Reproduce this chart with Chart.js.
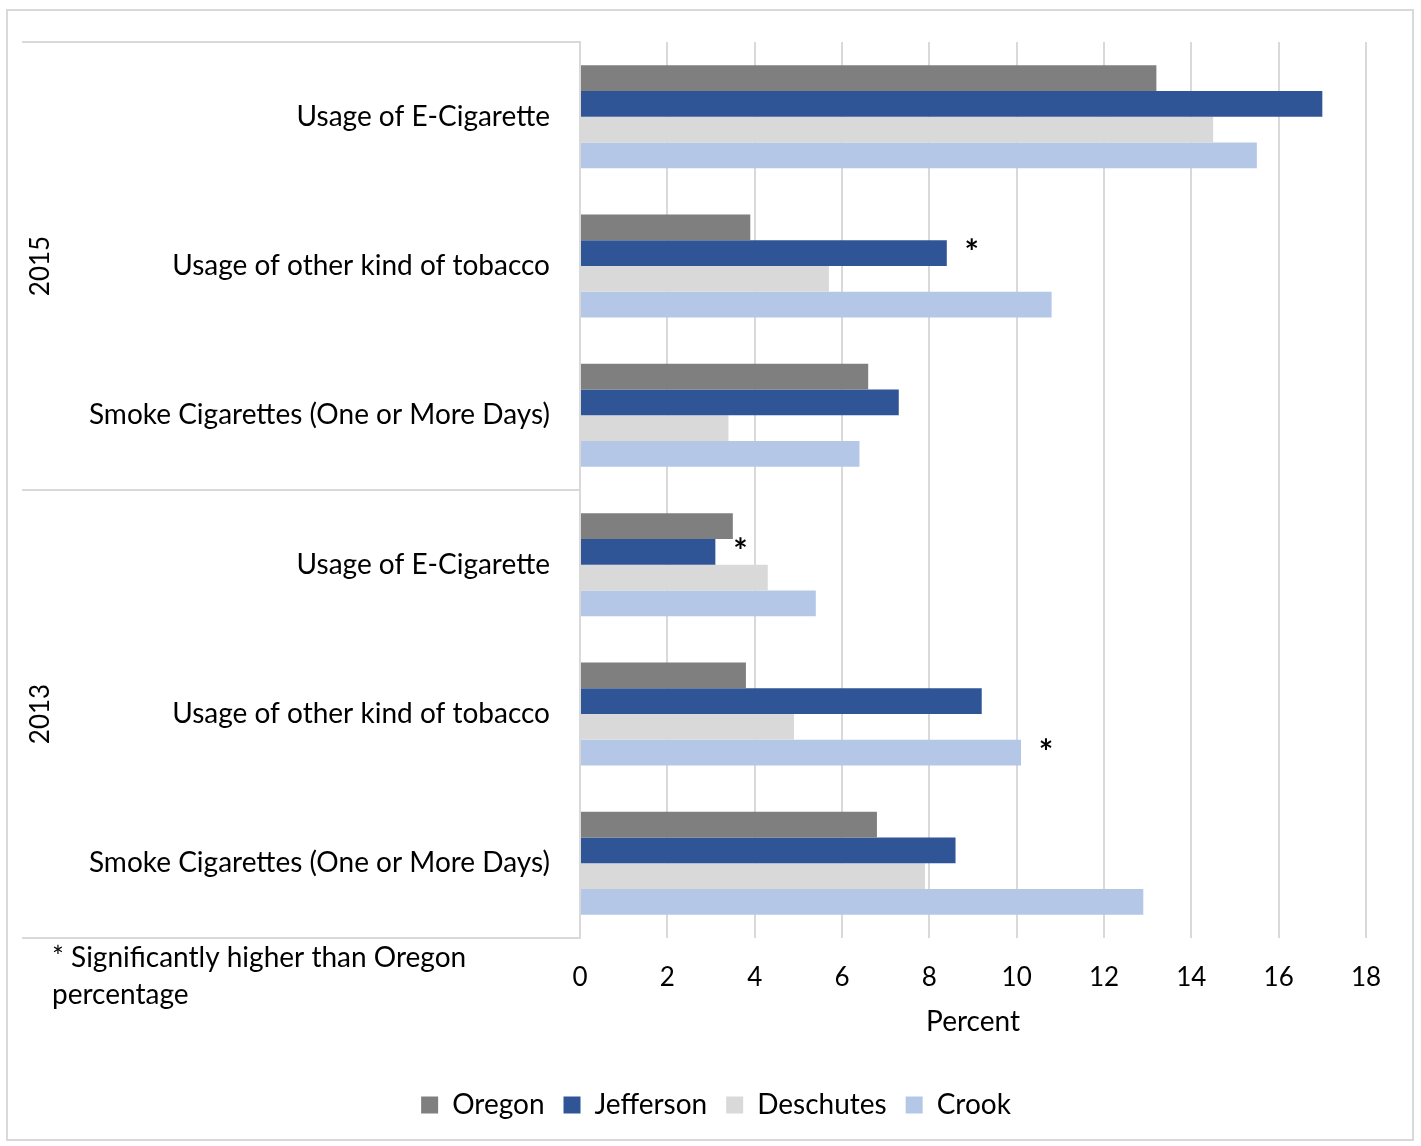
<!DOCTYPE html>
<html>
<head>
<meta charset="utf-8">
<script src="https://cdn.jsdelivr.net/npm/chart.js@4.4.1/dist/chart.umd.min.js"></script>
<style>
  body { margin: 0; background: #fff; }
  #wrap { width: 1421px; height: 1146px; }
</style>
</head>
<body>
<div id="wrap"><canvas id="my-chart" width="1421" height="1146"></canvas></div>
<script>
'use strict';

// categories, top to bottom
let measures = [
  'Usage of E-Cigarette',
  'Usage of other kind of tobacco',
  'Smoke Cigarettes (One or More Days)',
  'Usage of E-Cigarette',
  'Usage of other kind of tobacco',
  'Smoke Cigarettes (One or More Days)'
];
let years = ['2015', '2013'];   // each year covers 3 measures

// series values (percent)
let oregon    = [13.2, 3.9, 6.6, 3.5, 3.8, 6.8];
let jefferson = [17.0, 8.4, 7.3, 3.1, 9.2, 8.6];
let deschutes = [14.5, 5.7, 3.4, 4.3, 4.9, 7.9];
let crook     = [15.5, 10.8, 6.4, 5.4, 10.1, 12.9];

let xTicks = [0, 2, 4, 6, 8, 10, 12, 14, 16, 18];

// significance stars: [series index, category index]
let stars = [[1, 1], [1, 3], [3, 4]];

let footnote = ['* Significantly higher than Oregon', 'percentage'];

const FONT = 'Lato, "Noto Sans", sans-serif';
const FRAME = '#d9d9d9';

let ctx = document.getElementById('my-chart');

// frame, year labels, stars and footnote
let extrasPlugin = {
  id: 'extras',
  beforeDraw(chart) {
    let c = chart.ctx;
    c.save();
    c.fillStyle = '#fff';
    c.fillRect(0, 0, chart.width, chart.height);
    c.strokeStyle = FRAME;
    c.lineWidth = 2;
    c.strokeRect(7, 10, 1406, 1130);
    c.restore();
  },
  afterDraw(chart) {
    let c = chart.ctx;
    let y = chart.scales.y;
    let area = chart.chartArea;
    let per = measures.length / years.length;

    c.save();
    c.strokeStyle = FRAME;
    c.lineWidth = 2;
    let lines = [area.top, area.bottom];
    for (let g = 1; g < years.length; g++) {
      lines.push((y.getPixelForTick(g * per - 1) + y.getPixelForTick(g * per)) / 2);
    }
    lines.forEach(function (ly) {
      c.beginPath();
      c.moveTo(22, ly);
      c.lineTo(area.left, ly);
      c.stroke();
    });

    // year labels, rotated
    c.fillStyle = '#000';
    c.font = '26px ' + FONT;
    c.textAlign = 'center';
    c.textBaseline = 'middle';
    for (let g = 0; g < years.length; g++) {
      let top = g === 0 ? area.top : lines[1 + g];
      let bottom = g === years.length - 1 ? area.bottom : lines[2 + g];
      c.save();
      c.translate(41, (top + bottom) / 2);
      c.rotate(-Math.PI / 2);
      c.fillText(years[g], 0, 0);
      c.restore();
    }

    // stars
    c.font = 'bold 34px ' + FONT;
    c.textBaseline = 'alphabetic';
    stars.forEach(function (s) {
      let bar = chart.getDatasetMeta(s[0]).data[s[1]];
      c.fillText('*', bar.x + 25, bar.y + 11);
    });

    // footnote
    c.font = '28px ' + FONT;
    c.textAlign = 'left';
    c.textBaseline = 'middle';
    c.fillText(footnote[0], 52, 958);
    c.fillText(footnote[1], 52, 995);
    c.restore();
  }
};

let chartObject = {
  type: 'bar',
  data: {
    labels: measures,
    datasets: [
      { label: 'Oregon', data: oregon, backgroundColor: '#7f7f7f' },
      { label: 'Jefferson', data: jefferson, backgroundColor: '#2f5597' },
      { label: 'Deschutes', data: deschutes, backgroundColor: '#d9d9d9' },
      { label: 'Crook', data: crook, backgroundColor: '#b4c7e7' }
    ]
  },
  options: {
    indexAxis: 'y',
    responsive: false,
    animation: false,
    devicePixelRatio: 1,
    datasets: {
      bar: { categoryPercentage: 0.69, barPercentage: 1.0 }
    },
    layout: { padding: { top: 42, right: 55, bottom: 17, left: 66 } },
    scales: {
      x: {
        min: 0,
        max: 18,
        afterBuildTicks: function (scale) {
          scale.ticks = xTicks.map(function (v) { return { value: v }; });
        },
        afterFit: function (scale) { scale.height = 134; },
        grid: { color: FRAME, lineWidth: 2, drawTicks: false },
        border: { display: false },
        ticks: { color: '#000', font: { family: FONT, size: 26 }, padding: 24 },
        title: {
          display: true,
          text: 'Percent',
          color: '#000',
          font: { family: FONT, size: 28 },
          padding: { top: 8, bottom: 33 }
        }
      },
      y: {
        afterFit: function (scale) { scale.width = 514; },
        grid: { display: false, drawTicks: false },
        border: { display: true, color: FRAME, width: 2 },
        ticks: { color: '#000', font: { family: FONT, size: 28, lineHeight: 0.8 }, padding: 30 }
      }
    },
    plugins: {
      legend: {
        position: 'bottom',
        labels: {
          color: '#000',
          font: { family: FONT, size: 28 },
          boxWidth: 17,
          boxHeight: 17,
          padding: 19
        }
      },
      tooltip: { enabled: false }
    }
  },
  plugins: [extrasPlugin]
};

const myChart = new Chart(ctx, chartObject);
</script>
</body>
</html>
